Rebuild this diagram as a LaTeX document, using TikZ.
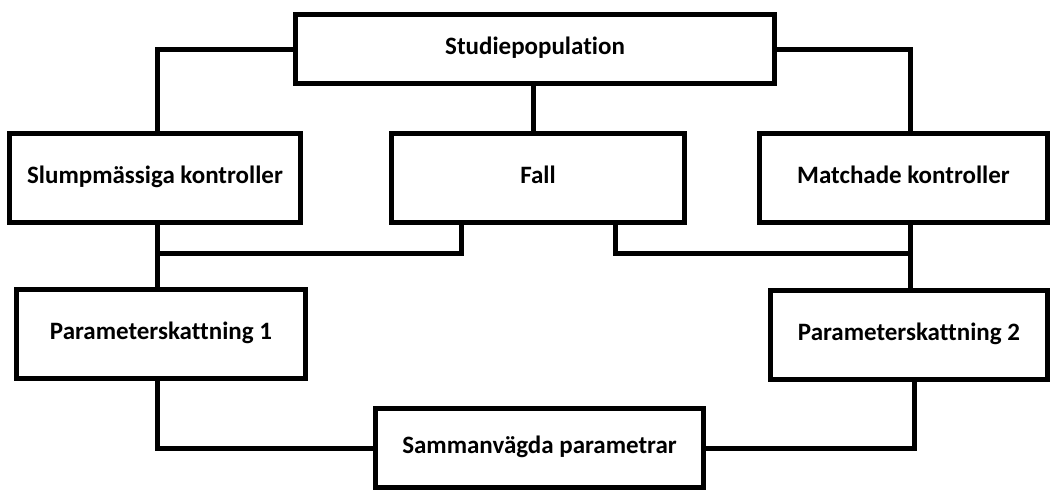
\documentclass[tikz,border=0pt]{standalone}
\usepackage{fontspec}
\setmainfont{Carlito}[Ligatures=NoCommon]
\usepackage{tikz}
\usetikzlibrary{positioning}

\begin{document}
\begin{tikzpicture}[x=1pt, y=-1pt,
  every node/.style={font=\fontsize{25}{30}\selectfont\bfseries},
  box/.style={draw, line width=5pt, inner sep=0pt, anchor=center,
    text height=18pt, text depth=8pt},
  conn/.style={line width=5pt}]

  \useasboundingbox (0,0) rectangle (1050,490);

  % boxes
  \node[box, minimum width=479pt, minimum height=69pt] (stud) at (535,49) {Studiepopulation};
  \node[box, minimum width=291pt, minimum height=89pt] (slump) at (155,178) {Slumpmässiga kontroller};
  \node[box, minimum width=293pt, minimum height=89pt] (fall) at (538,178) {Fall};
  \node[box, minimum width=288pt, minimum height=89pt] (match) at (903.5,178) {Matchade kontroller};
  \node[box, minimum width=289pt, minimum height=89pt] (par1) at (161,334) {Parameterskattning 1};
  \node[box, minimum width=277pt, minimum height=89pt] (par2) at (909,335) {Parameterskattning 2};
  \node[box, minimum width=328pt, minimum height=79pt] (samman) at (539.5,448) {Sammanvägda parametrar};

  % junctions
  \coordinate (jl) at (157,253);
  \coordinate (jr) at (910,253);

  % connectors
  \draw[conn] (stud.west) -| (jl |- slump.north);
  \draw[conn] (stud.east) -| (jr |- match.north);
  \draw[conn] ([xshift=-2pt]stud.south) -- ([xshift=-2pt]stud.south |- fall.north);

  \draw[conn] (jl |- slump.south) -- (jl |- par1.north);
  \draw[conn] ([xshift=-77pt]fall.south) |- (jl);
  \draw[conn] ([xshift=77pt]fall.south) |- (jr);
  \draw[conn] (jr |- match.south) -- (jr |- par2.north);

  \draw[conn] (jl |- par1.south) |- (samman.west);
  \draw[conn] ([xshift=5pt]par2.south) |- (samman.east);
\end{tikzpicture}
\end{document}
